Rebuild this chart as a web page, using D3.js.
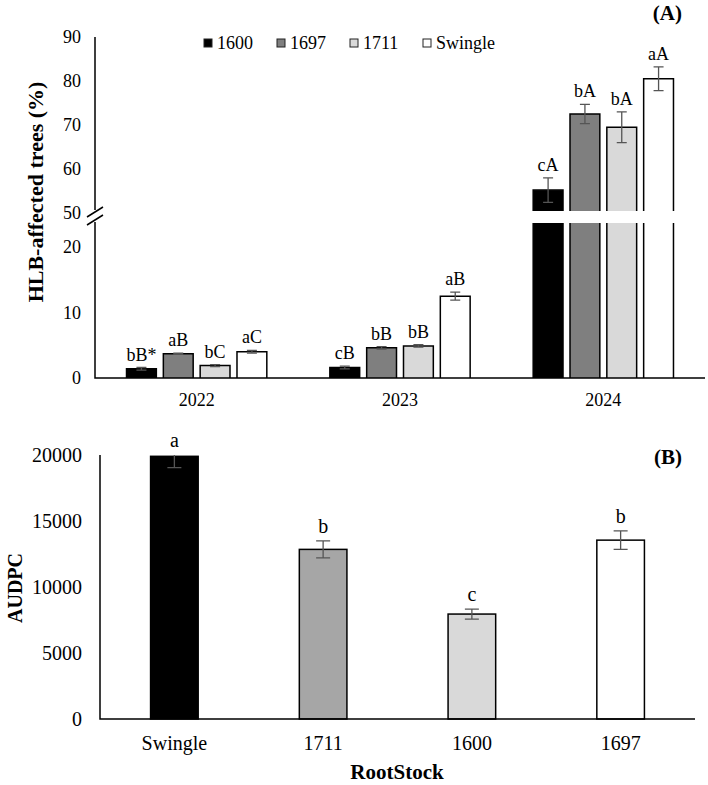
<!DOCTYPE html>
<html>
<head>
<meta charset="utf-8">
<script src="https://cdn.jsdelivr.net/npm/d3@7"></script>
<style>
  body { margin: 0; background: #fff; }
  text { font-family: "Liberation Serif", "Times New Roman", serif; fill: #000; }
</style>
</head>
<body>
<script>
// panel A data
var years = ["2022", "2023", "2024"];
var rootstocksA = ["1600", "1697", "1711", "Swingle"];
var hlb = {
  "1600":    [1.4, 1.6, 55.2],
  "1697":    [3.7, 4.6, 72.5],
  "1711":    [1.9, 4.9, 69.5],
  "Swingle": [4.0, 12.5, 80.5]
};
var hlbErr = {
  "1600":    [0.2, 0.2, 2.8],
  "1697":    [0.1, 0.2, 2.2],
  "1711":    [0.15, 0.2, 3.5],
  "Swingle": [0.2, 0.6, 2.7]
};
var hlbLetters = {
  "1600":    ["bB*", "cB", "cA"],
  "1697":    ["aB", "bB", "bA"],
  "1711":    ["bC", "bB", "bA"],
  "Swingle": ["aC", "aB", "aA"]
};
var lowTicks = [0, 10, 20];
var highTicks = [50, 60, 70, 80, 90];

// panel B data
var rootstocksB = ["Swingle", "1711", "1600", "1697"];
var audpc = [19900, 12850, 7950, 13550];
var audpcErr = [850, 640, 380, 700];
var audpcLetters = ["a", "b", "c", "b"];
var audpcTicks = [0, 5000, 10000, 15000, 20000];

var colorsA = d3.scaleOrdinal().domain(rootstocksA).range(["#000000", "#7f7f7f", "#d9d9d9", "#ffffff"]);
var colorsB = d3.scaleOrdinal().domain(rootstocksB).range(["#000000", "#a6a6a6", "#d9d9d9", "#ffffff"]);

var svg = d3.select("body").append("svg").attr("width", 708).attr("height", 785);
var errColor = "#555";

//first chart (A) with broken axis
var x0 = d3.scaleBand().domain(years).range([95, 705]).paddingInner(0.31).paddingOuter(0.155);
var x1 = d3.scaleBand().domain(rootstocksA).range([0, x0.bandwidth()]).paddingInner(0.19);
var yLow = d3.scaleLinear().domain([0, 20]).range([378, 247]);
var yHigh = d3.scaleLinear().domain([50, 90]).range([213, 37]);
var lowTop = 223, highBottom = 211; // edges of the white gap

function yA(v) { return v > 30 ? yHigh(v) : yLow(v); }

var bars = [];
rootstocksA.forEach(function(r) {
  years.forEach(function(yr, i) {
    bars.push({r: r, year: yr, v: hlb[r][i], e: hlbErr[r][i], lab: hlbLetters[r][i]});
  });
});

var gA = svg.append("g");
bars.forEach(function(d) {
  var x = x0(d.year) + x1(d.r), w = x1.bandwidth();
  var segs = d.v > 30 ? [[lowTop, yLow(0)], [yHigh(d.v), highBottom]] : [[yLow(d.v), yLow(0)]];
  segs.forEach(function(s, k) {
    gA.append("rect").attr("x", x).attr("y", s[0]).attr("width", w).attr("height", s[1] - s[0])
      .attr("fill", colorsA(d.r));
    var top = (segs.length == 2 && k == 0) ? "M" + x + "," + s[1] + "V" + s[0] + "M" + (x + w) + "," + s[0] + "V" + s[1]
                                           : "M" + x + "," + s[1] + "V" + s[0] + "H" + (x + w) + "V" + s[1];
    gA.append("path").attr("d", top).attr("fill", "none").attr("stroke", "#000").attr("stroke-width", 1.5);
  });
  var cx = x + w / 2, y1 = yA(d.v + d.e), y2 = yA(d.v - d.e);
  gA.append("path").attr("d", "M" + cx + "," + y1 + "V" + y2 + "M" + (cx - 5) + "," + y1 + "H" + (cx + 5) + "M" + (cx - 5) + "," + y2 + "H" + (cx + 5))
    .attr("stroke", errColor).attr("stroke-width", 1.3).attr("fill", "none");
  gA.append("text").attr("x", cx).attr("y", y1 - 7).attr("text-anchor", "middle")
    .style("font-size", "18px").text(d.lab);
});

// axes A
gA.append("path").attr("d", "M95,37V210M95,222V378H705").attr("stroke", "#000").attr("stroke-width", 1.5).attr("fill", "none");
gA.append("rect").attr("x", 86).attr("y", 210).attr("width", 18).attr("height", 12).attr("fill", "#fff");
gA.append("path").attr("d", "M87,217L103,207M87,225L103,215").attr("stroke", "#000").attr("stroke-width", 1.5);
gA.selectAll(".tl").data(lowTicks).enter().append("text").attr("x", 81).attr("y", function(d) { return yLow(d) + 6; })
  .attr("text-anchor", "end").style("font-size", "18px").text(function(d) { return d; });
gA.selectAll(".th").data(highTicks).enter().append("text").attr("x", 81).attr("y", function(d) { return yHigh(d) + 6; })
  .attr("text-anchor", "end").style("font-size", "18px").text(function(d) { return d; });
gA.selectAll(".xl").data(years).enter().append("text").attr("x", function(d) { return x0(d) + x0.bandwidth() / 2; })
  .attr("y", 406).attr("text-anchor", "middle").style("font-size", "18px").text(function(d) { return d; });
gA.append("text").attr("transform", "translate(43,192) rotate(-90)").attr("text-anchor", "middle")
  .style("font-size", "22px").style("font-weight", "bold").text("HLB-affected trees (%)");
gA.append("text").attr("x", 682).attr("y", 20).attr("text-anchor", "end")
  .style("font-size", "21px").style("font-weight", "bold").text("(A)");

// legend
var legend = gA.selectAll(".legends").data(rootstocksA).enter().append("g").classed("legends", true)
  .attr("transform", function(d, i) { return "translate(" + (204 + i * 73) + ",39)"; });
legend.append("rect").attr("width", 8).attr("height", 8).attr("fill", function(d) { return colorsA(d); })
  .attr("stroke", "#222").attr("stroke-width", 1);
legend.append("text").attr("x", 13).attr("y", 10).style("font-size", "18px").text(function(d) { return d; });

//second chart (B)
var xB = d3.scaleBand().domain(rootstocksB).range([100, 695]).paddingInner(0.68).paddingOuter(0.34);
var yB = d3.scaleLinear().domain([0, 20000]).range([719, 455]);
var gB = svg.append("g");
rootstocksB.forEach(function(r, i) {
  var x = xB(r), w = xB.bandwidth(), v = audpc[i], e = audpcErr[i];
  gB.append("rect").attr("x", x).attr("y", yB(v)).attr("width", w).attr("height", yB(0) - yB(v))
    .attr("fill", colorsB(r)).attr("stroke", "#000").attr("stroke-width", 1.5);
  var cx = x + w / 2, y1 = yB(Math.min(v + e, 20000)), y2 = yB(v - e);
  var p = "M" + cx + "," + y1 + "V" + y2 + "M" + (cx - 7) + "," + y2 + "H" + (cx + 7);
  if (v + e <= 20000) p += "M" + (cx - 7) + "," + y1 + "H" + (cx + 7);
  gB.append("path").attr("d", p).attr("stroke", errColor).attr("stroke-width", 1.3).attr("fill", "none");
  gB.append("text").attr("x", cx).attr("y", y1 - 8).attr("text-anchor", "middle")
    .style("font-size", "20px").text(audpcLetters[i]);
});
gB.append("path").attr("d", "M100,455V719H695").attr("stroke", "#000").attr("stroke-width", 1.5).attr("fill", "none");
gB.selectAll(".ty").data(audpcTicks).enter().append("text").attr("x", 82).attr("y", function(d) { return yB(d) + 7; })
  .attr("text-anchor", "end").style("font-size", "20px").text(function(d) { return d; });
gB.selectAll(".xb").data(rootstocksB).enter().append("text").attr("x", function(d) { return xB(d) + xB.bandwidth() / 2; })
  .attr("y", 750).attr("text-anchor", "middle").style("font-size", "20px").text(function(d) { return d; });
gB.append("text").attr("x", 397).attr("y", 779).attr("text-anchor", "middle")
  .style("font-size", "21px").style("font-weight", "bold").text("RootStock");
gB.append("text").attr("transform", "translate(22,588) rotate(-90)").attr("text-anchor", "middle")
  .style("font-size", "20px").style("font-weight", "bold").text("AUDPC");
gB.append("text").attr("x", 682).attr("y", 464).attr("text-anchor", "end")
  .style("font-size", "21px").style("font-weight", "bold").text("(B)");
</script>
</body>
</html>
